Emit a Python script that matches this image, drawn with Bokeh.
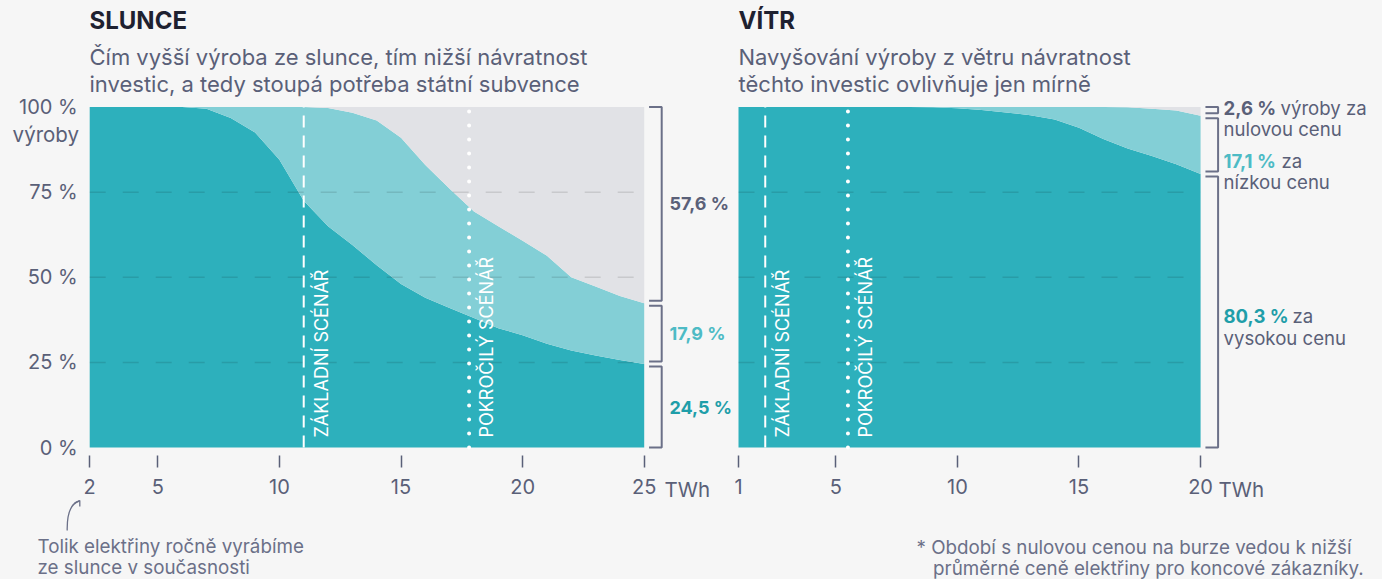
import math
from bokeh.plotting import figure
from bokeh.models import (Range1d, LinearAxis, FixedTicker, NumeralTickFormatter,
                          Label, ColumnDataSource)
from bokeh.layouts import row
from bokeh.embed import file_html
from bokeh.resources import INLINE

# ---------------- data ----------------
solar_twh = [2.2, 3, 4, 5, 6, 7, 8, 9, 10, 11, 12, 13, 14, 15, 16, 17, 18, 19, 20, 21, 22, 23, 24, 25]
# share of production sold at high price (%)
solar_high = [100, 100, 100, 100, 100, 99.5, 96.8, 92.5, 84.5, 72.5, 65, 59.5, 53.5, 48, 44, 41, 38, 35,
              33, 30.5, 28.5, 27, 25.7, 24.5]
# share of production sold at low price (%)
solar_low = [0, 0, 0, 0, 0, 0.5, 3.2, 7.5, 15.5, 27.5, 34.7, 38.8, 42.5, 43, 39, 35, 31.3, 30,
             27.7, 25.8, 21.5, 20.3, 18.8, 17.9]

wind_twh = [1, 2, 3, 4, 5, 6, 7, 8, 9, 10, 11, 12, 13, 14, 15, 16, 17, 18, 19, 20]
wind_high = [100, 100, 100, 100, 100, 100, 100, 100, 99.9, 99.6, 99.1, 98.4, 97.6, 96.3, 93.9,
             90.6, 87.8, 85.6, 83.2, 80.3]
wind_low = [0, 0, 0, 0, 0, 0, 0, 0, 0.1, 0.4, 0.9, 1.6, 2.4, 3.7, 6.1, 9.4, 12.1, 13.9, 15.8, 17.1]

solar_scenarios = [11.0, 17.8]   # základní, pokročilý (TWh)
wind_scenarios = [2.1, 5.5]
scenario_names = ["ZÁKLADNÍ SCÉNÁŘ", "POKROČILÝ SCÉNÁŘ"]

solar_ticks = [2.2, 5, 10, 15, 20, 25]
wind_ticks = [1, 5, 10, 15, 20]
pct_ticks = [0, 25, 50, 75, 100]

# ---------------- style ----------------
DARK = "#2db0bc"
LIGHT = "#83cfd6"
GREY = "#e1e2e6"
BG = "#f6f6f6"
TEXT = "#5a6078"
NOTE = "#6b7088"
TITLE = "#1e2130"
DARK_TXT = "#1f9ea9"
LIGHT_TXT = "#4dbbc5"
FONT = "Inter"

H = 579
W1 = 734
W2 = 648
K = 24.32          # px per TWh
Y0PX = 447.0       # page y of 0 %
YK = 3.405         # px per %
X0_1 = 5 - 157.3 / K
X0_2 = 1 - (738 - W1) / K


def dy(py):
    return (Y0PX - py) / YK


def dx1(px):
    return X0_1 + px / K


def dx2(px):
    return X0_2 + (px - W1) / K


def make_fig(x0, w):
    p = figure(width=w, height=H,
               x_range=Range1d(x0, x0 + w / K),
               y_range=Range1d(dy(H), dy(0)),
               output_backend="svg", toolbar_location=None,
               x_axis_location=None, y_axis_location=None,
               min_border=0, background_fill_color=BG, border_fill_color=BG,
               outline_line_color=None)
    p.xgrid.visible = False
    p.ygrid.visible = False
    return p


def label(p, x, y, text, size="18px", color=TEXT, style="normal", align="left",
          baseline="middle", angle=0.0):
    p.add_layout(Label(x=x, y=y, text=text, text_font=FONT, text_font_size=size,
                       text_color=color, text_font_style=style, text_align=align,
                       text_baseline=baseline, angle=angle))


def fmt(v):
    return f"{v:.1f} %".replace(".", ",")


def chart(p, twh, high, low, scen, ticks, with_y):
    zero = [round(100 - h - l, 3) for h, l in zip(high, low)]
    src = ColumnDataSource(dict(x=twh, high=high, low=low, zero=zero))
    p.varea_stack(["high", "low", "zero"], x="x", color=[DARK, LIGHT, GREY], source=src)

    # dashed horizontal gridlines on top of the areas
    g = pct_ticks[1:-1]
    p.segment(x0=[twh[0]] * len(g), x1=[twh[-1]] * len(g), y0=g, y1=g,
              line_color="black", line_alpha=0.11, line_width=1.5, line_dash="16 17")

    # scenario lines
    p.segment(x0=[scen[0]], x1=[scen[0]], y0=[0], y1=[100], line_color="white",
              line_width=2, line_dash="12 8")
    p.segment(x0=[scen[1]], x1=[scen[1]], y0=[0], y1=[100], line_color="white",
              line_width=4, line_dash="0 14", line_cap="round")
    for s, name in zip(scen, scenario_names):
        label(p, s + 17.5 / K, dy(437), name, size="18px", color="white",
              angle=math.pi / 2)

    # axes
    xa = LinearAxis(fixed_location=dy(455), ticker=FixedTicker(ticks=ticks),
                    formatter=NumeralTickFormatter(format="0"),
                    axis_line_color=None, major_tick_line_color=TEXT,
                    major_tick_line_width=1.5, major_tick_in=0, major_tick_out=12,
                    minor_tick_line_color=None, major_label_standoff=11,
                    major_label_text_font=FONT, major_label_text_font_size="20px",
                    major_label_text_color=TEXT)
    p.add_layout(xa, "below")
    if with_y:
        ya = LinearAxis(fixed_location=twh[0], ticker=FixedTicker(ticks=pct_ticks),
                        major_label_overrides={t: f"{t} %" for t in pct_ticks},
                        axis_line_color=None, major_tick_line_color=None,
                        major_tick_in=0, major_tick_out=0, minor_tick_line_color=None,
                        major_label_standoff=12, major_label_text_font=FONT,
                        major_label_text_font_size="20px", major_label_text_color=TEXT)
        p.add_layout(ya, "left")

    # brackets
    b_hi = high[-1]
    b_lo = high[-1] + low[-1]
    gap = 2.5 / YK
    xe = twh[-1]
    spans = [(100, b_lo + gap), (b_lo - gap, b_hi + gap), (b_hi - gap, 0)]
    xs = [[xe + 0.2, xe + 0.72, xe + 0.72, xe + 0.2] for _ in spans]
    ys = [[a, a, b, b] for a, b in spans]
    p.multi_line(xs=xs, ys=ys, line_color=NOTE, line_width=2)
    return spans, 100 - b_lo, low[-1], high[-1]


SUB = "22px"
RL = "18.6px"
NT = "18.8px"

# ---------------- left: SLUNCE ----------------
p1 = make_fig(X0_1, W1)
spans, z, l, h = chart(p1, solar_twh, solar_high, solar_low, solar_scenarios,
                       solar_ticks, True)
label(p1, dx1(89), dy(20), "SLUNCE", size="24px", color=TITLE, style="bold")
label(p1, dx1(89), dy(56.5), "Čím vyšší výroba ze slunce, tím nižší návratnost", size=SUB)
label(p1, dx1(89), dy(83), "investic, a tedy stoupá potřeba státní subvence", size=SUB)
label(p1, dx1(78.5), dy(134), "výroby", size="20.5px", align="right")
label(p1, dx1(664), dy(489), "TWh", size="20.5px")
for (a, b), v, c in zip(spans, [z, l, h], [TEXT, LIGHT_TXT, DARK_TXT]):
    label(p1, dx1(669), (a + b) / 2, fmt(v), size="18px", color=c, style="bold")
label(p1, dx1(37), dy(546), "Tolik elektřiny ročně vyrábíme", size=NT, color=NOTE)
label(p1, dx1(37), dy(567), "ze slunce v současnosti", size=NT, color=NOTE)
p1.bezier(x0=[dx1(66.7)], y0=[dy(530)], x1=[dx1(78.8)], y1=[dy(500.5)],
          cx0=[dx1(66.4)], cy0=[dy(513)], cx1=[dx1(70)], cy1=[dy(503)],
          line_color=NOTE, line_width=1.3)
p1.multi_line(xs=[[dx1(74), dx1(79.3), dx1(79.3)]], ys=[[dy(502.5), dy(500), dy(506)]],
              line_color=NOTE, line_width=1.3)

# ---------------- right: VÍTR ----------------
p2 = make_fig(X0_2, W2)
spans2, z2, l2, h2 = chart(p2, wind_twh, wind_high, wind_low, wind_scenarios,
                           wind_ticks, False)
label(p2, dx2(738), dy(20), "VÍTR", size="24px", color=TITLE, style="bold")
label(p2, dx2(738), dy(56.5), "Navyšování výroby z větru návratnost", size=SUB)
label(p2, dx2(738), dy(83), "těchto investic ovlivňuje jen mírně", size=SUB)
label(p2, dx2(1218), dy(489), "TWh", size="20.5px")

label(p2, dx2(1223), dy(107), fmt(z2), size=RL, color=TEXT, style="bold")
label(p2, dx2(1280), dy(107), "výroby za", size=RL)
label(p2, dx2(1223), dy(128.5), "nulovou cenu", size=RL)
label(p2, dx2(1223), dy(160), fmt(l2), size=RL, color=LIGHT_TXT, style="bold")
label(p2, dx2(1281), dy(160), "za", size=RL)
label(p2, dx2(1223), dy(181), "nízkou cenu", size=RL)
label(p2, dx2(1223), dy(315), fmt(h2), size=RL, color=DARK_TXT, style="bold")
label(p2, dx2(1292), dy(315), "za", size=RL)
label(p2, dx2(1223), dy(337), "vysokou cenu", size=RL)

label(p2, dx2(916), dy(546.5), "* Období s nulovou cenou na burze vedou k nižší",
      size=NT, color=NOTE)
label(p2, dx2(932.6), dy(567.5), "průměrné ceně elektřiny pro koncové zákazníky.",
      size=NT, color=NOTE)

layout = row(p1, p2)
html = file_html(layout, INLINE)
html = html.replace("</head>", "<style>html, body { background: #f6f6f6; }</style></head>", 1)
open("out.html", "w").write(html)
